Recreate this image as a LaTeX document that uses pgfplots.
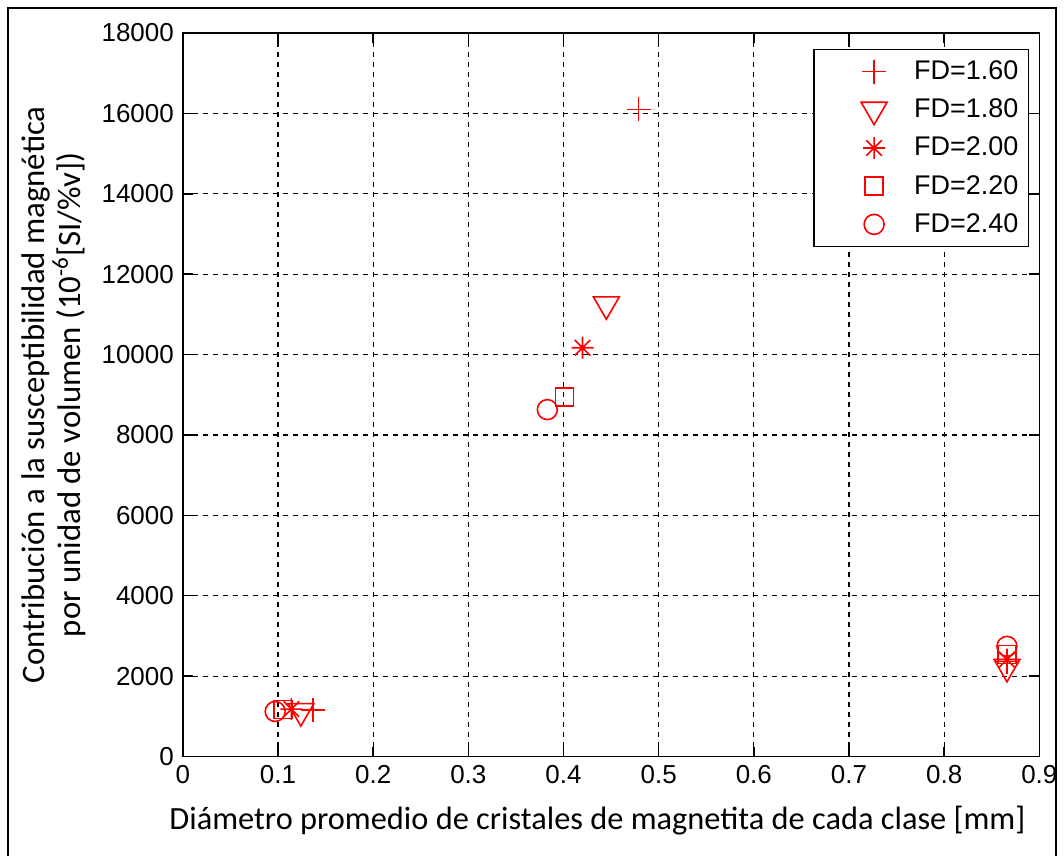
\documentclass[border=0pt]{standalone}
\usepackage{pgfplots}
\pgfplotsset{compat=1.18}
\usepackage{fontspec}
\setmainfont{Liberation Sans}
\newfontfamily\calibri{Carlito}
\definecolor{mred}{rgb}{1,0,0}
\pgfdeclareplotmark{ast8}{%
 \pgfpathmoveto{\pgfqpoint{-\pgfplotmarksize}{0pt}}\pgfpathlineto{\pgfqpoint{\pgfplotmarksize}{0pt}}%
 \pgfpathmoveto{\pgfqpoint{0pt}{-\pgfplotmarksize}}\pgfpathlineto{\pgfqpoint{0pt}{\pgfplotmarksize}}%
 \pgfpathmoveto{\pgfqpoint{-0.7071\pgfplotmarksize}{-0.7071\pgfplotmarksize}}\pgfpathlineto{\pgfqpoint{0.7071\pgfplotmarksize}{0.7071\pgfplotmarksize}}%
 \pgfpathmoveto{\pgfqpoint{-0.7071\pgfplotmarksize}{0.7071\pgfplotmarksize}}\pgfpathlineto{\pgfqpoint{0.7071\pgfplotmarksize}{-0.7071\pgfplotmarksize}}%
 \pgfusepathqstroke}
\begin{document}
\begin{tikzpicture}
\begin{axis}[
  scale only axis,
  width=428.5bp, height=362bp,
  xmin=0, xmax=0.9, ymin=0, ymax=18000,
  xtick={0,0.1,0.2,0.3,0.4,0.5,0.6,0.7,0.8,0.9},
  xticklabels={0,0.1,0.2,0.3,0.4,0.5,0.6,0.7,0.8,0.9},
  ytick={0,2000,4000,6000,8000,10000,12000,14000,16000,18000},
  yticklabels={0,2000,4000,6000,8000,10000,12000,14000,16000,18000},
  scaled y ticks=false,
  tick label style={font=\fontsize{13bp}{15bp}\selectfont},
  /pgf/number format/assume math mode=true,
  xticklabel style={yshift=-1bp},
  yticklabel style={xshift=-1bp},
  axis line style={line width=0.75bp},
  every tick/.style={black, line width=0.75bp},
  major tick length=5bp,
  tick align=inside,
  grid=major,
  axis on top=false,
  major grid style={black, line width=0.6bp, dash pattern=on 2.5bp off 2.5bp},
  xlabel={\calibri Diámetro promedio de cristales de magnetita de cada clase [mm]},
  xlabel style={font=\fontsize{16.2bp}{18bp}\selectfont, at={(axis description cs:0.484,-0.068)}, anchor=north, inner sep=0pt},
  ylabel={\calibri Contribución a la susceptibilidad magnética\\ \calibri por unidad de volumen (10\textsuperscript{-6}[SI/\%v])},
  ylabel style={font=\fontsize{16.4bp}{13.5bp}\selectfont, align=center, at={(axis description cs:-0.113,0.5)}, anchor=south, inner sep=0pt},
  legend style={font=\fontsize{13.5bp}{16bp}\selectfont, draw=black, line width=0.75bp, at={(0.988,0.978)}, anchor=north east, row sep=4.2bp, inner xsep=3bp, inner ysep=3.5bp},
  legend cell align=left,
  legend image code/.code={\path[draw=none, fill=none] (-4bp,-4bp) rectangle (41bp,4bp); \draw[mark repeat=2,mark phase=2] plot coordinates {(0bp,0bp)(23bp,0bp)(41bp,0bp)};},
  every axis plot/.append style={only marks, color=mred, line width=0.8bp},
]
\addplot[color=mred, mark=+, mark size=6bp, mark options={draw=mred, fill=none, solid}] coordinates {(0.137,1160) (0.479,16100) (0.866,2360)};
\addlegendentry{FD=1.60}
\addplot[color=mred, mark=triangle, mark size=7.5bp, mark options={draw=mred, fill=none, solid, rotate=180}] coordinates {(0.124,1130) (0.445,11250) (0.866,2230)};
\addlegendentry{FD=1.80}
\addplot[color=mred, mark=ast8, mark size=5.5bp, mark options={draw=mred, fill=none, solid}] coordinates {(0.114,1180) (0.42,10170) (0.866,2410)};
\addlegendentry{FD=2.00}
\addplot[color=mred, mark=square, mark size=4.5bp, mark options={draw=mred, fill=none, solid}] coordinates {(0.105,1170) (0.401,8950) (0.866,2540)};
\addlegendentry{FD=2.20}
\addplot[color=mred, mark=o, mark size=5bp, mark options={draw=mred, fill=none, solid}] coordinates {(0.097,1120) (0.383,8630) (0.866,2740)};
\addlegendentry{FD=2.40}
\end{axis}
\draw[line width=1bp] ([shift={(-87.5bp,-50bp)}]current axis.south west) -- ([shift={(-87.5bp,12.5bp)}]current axis.north west) -- ([shift={(8.5bp,12.5bp)}]current axis.north east) -- ([shift={(8.5bp,-50bp)}]current axis.south east);
\useasboundingbox ([shift={(-91.5bp,-46.5bp)}]current axis.south west) rectangle ([shift={(12bp,16.5bp)}]current axis.north east);
\end{tikzpicture}
\end{document}
